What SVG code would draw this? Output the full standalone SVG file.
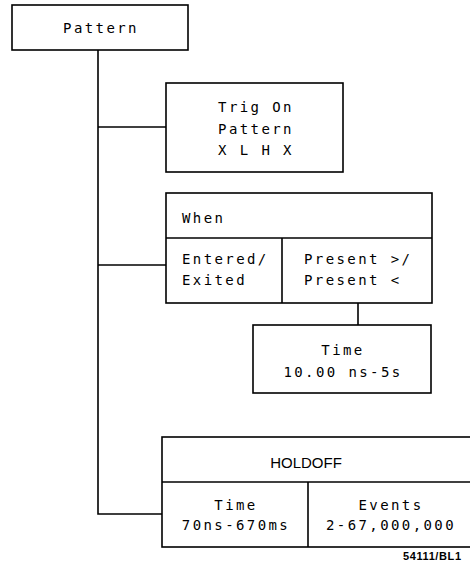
<svg xmlns="http://www.w3.org/2000/svg" width="470" height="567" viewBox="0 0 470 567">
<style>
.box{fill:#fff;stroke:#000;stroke-width:1.6}
.ln{stroke:#000;stroke-width:1.6;fill:none}
.t{font-family:"DejaVu Sans Mono","Liberation Mono",monospace;font-size:14px;letter-spacing:2.4px;fill:#000}
.c{text-anchor:middle}
.h{font-family:"Liberation Sans",Arial,sans-serif;font-size:15px;fill:#000;text-anchor:middle}
.s{font-family:"Liberation Sans",Arial,sans-serif;font-size:11px;font-weight:bold;letter-spacing:0.6px;fill:#000}
</style>
<rect width="470" height="567" fill="#fff"/>
<g id="connectors">
<path class="ln" d="M98,50 V514 H162"/>
<path class="ln" d="M98,127 H166"/>
<path class="ln" d="M98,265 H166"/>
<path class="ln" d="M358,303 V325"/>
</g>
<g id="pattern">
<rect class="box" x="12" y="5" width="176" height="45"/>
<text class="t c" x="101" y="33">Pattern</text>
</g>
<g id="trig-on">
<rect class="box" x="166" y="83" width="177" height="89"/>
<text class="t c" x="256" y="112">Trig On</text>
<text class="t c" x="256" y="134">Pattern</text>
<text class="t c" x="256" y="155">X L H X</text>
</g>
<g id="when">
<rect class="box" x="166" y="193" width="266" height="110"/>
<line class="ln" x1="166" y1="238" x2="432" y2="238"/>
<line class="ln" x1="282" y1="238" x2="282" y2="303"/>
<text class="t" x="182" y="223">When</text>
<text class="t" x="182" y="264">Entered/</text>
<text class="t" x="182" y="285">Exited</text>
<text class="t" x="304" y="264">Present &gt;/</text>
<text class="t" x="304" y="285">Present &lt;</text>
</g>
<g id="time">
<rect class="box" x="253" y="325" width="178" height="68"/>
<text class="t c" x="343" y="355">Time</text>
<text class="t c" x="343" y="377">10.00 ns-5s</text>
</g>
<g id="holdoff">
<rect class="box" x="162" y="437" width="312" height="110"/>
<line class="ln" x1="162" y1="482" x2="474" y2="482"/>
<line class="ln" x1="308" y1="482" x2="308" y2="547"/>
<text class="h" x="306" y="468">HOLDOFF</text>
<text class="t c" x="236" y="510">Time</text>
<text class="t c" x="236" y="530">70ns-670ms</text>
<text class="t c" x="391" y="510">Events</text>
<text class="t c" x="391" y="530">2-67,000,000</text>
</g>
<text class="s" x="403" y="560">54111/BL1</text>
</svg>
